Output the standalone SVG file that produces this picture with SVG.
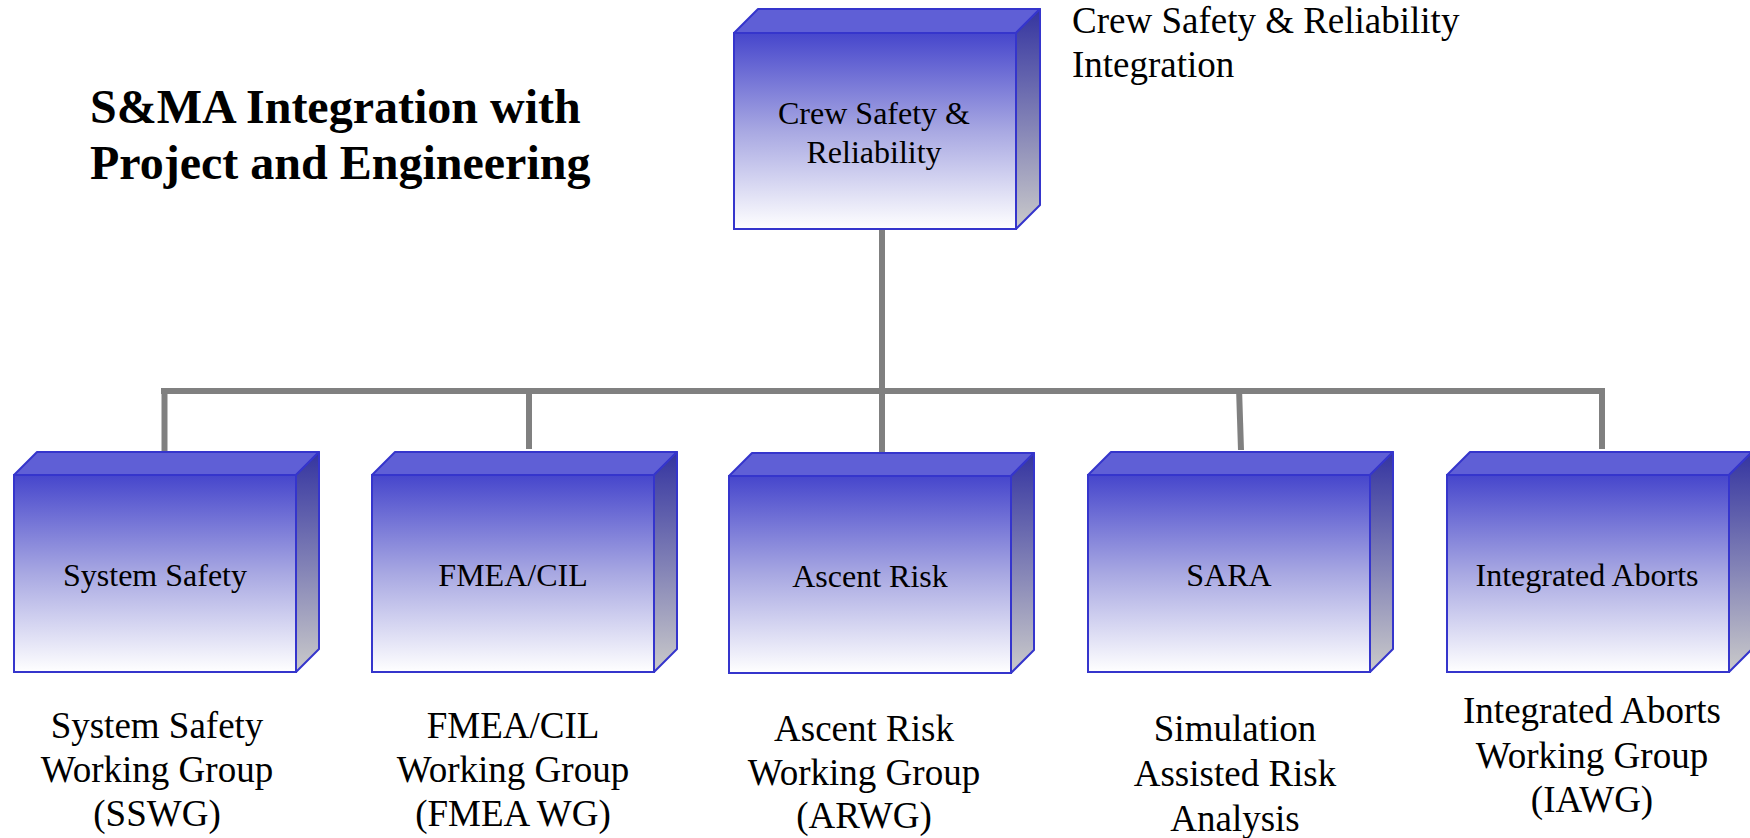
<svg xmlns="http://www.w3.org/2000/svg" width="1750" height="838" viewBox="0 0 1750 838">
  <defs>
    <linearGradient id="gFront" x1="0" y1="0" x2="0" y2="1">
      <stop offset="0" stop-color="#4646cc"/>
      <stop offset="0.5" stop-color="#a8a8e2"/>
      <stop offset="1" stop-color="#ffffff"/>
    </linearGradient>
    <linearGradient id="gSide" x1="0" y1="0" x2="0" y2="1">
      <stop offset="0" stop-color="#3434a0"/>
      <stop offset="1" stop-color="#cacaca"/>
    </linearGradient>
  </defs>
  <style>
    .front { fill: url(#gFront); stroke: #3535cc; stroke-width: 2; }
    .top { fill: #5f5fd6; stroke: #3535cc; stroke-width: 2; stroke-linejoin: round; }
    .side { fill: url(#gSide); stroke: #3535cc; stroke-width: 2; stroke-linejoin: round; }
    .conn { stroke: #808080; stroke-width: 6; fill: none; }
    .boxtxt { font-family: "Liberation Serif", "Times New Roman", serif; font-size: 32px; fill: #000; text-anchor: middle; }
    .label { font-family: "Liberation Serif", "Times New Roman", serif; font-size: 37px; fill: #000; text-anchor: middle; }
    .note { font-family: "Liberation Serif", "Times New Roman", serif; font-size: 37px; fill: #000; }
    .title { font-family: "Liberation Serif", "Times New Roman", serif; font-size: 48px; font-weight: bold; fill: #000; }
  </style>

  <rect x="0" y="0" width="1750" height="838" fill="#ffffff"/>

  <g id="title">
    <text class="title" x="90" y="123">S&amp;MA Integration with</text>
    <text class="title" x="90" y="179">Project and Engineering</text>
  </g>

  <g id="note">
    <text class="note" x="1072" y="33">Crew Safety &amp; Reliability</text>
    <text class="note" x="1072" y="77">Integration</text>
  </g>

  <g id="connectors">
    <line class="conn" x1="882" y1="229" x2="882" y2="452"/>
    <line class="conn" x1="161" y1="391" x2="1605" y2="391"/>
    <line class="conn" x1="164.5" y1="388" x2="164.5" y2="451"/>
    <line class="conn" x1="529" y1="391" x2="529" y2="449"/>
    <line class="conn" x1="1239" y1="388" x2="1241" y2="450"/>
    <line class="conn" x1="1602" y1="388" x2="1602" y2="449"/>
  </g>

  <g id="node-crew">
    <polygon class="top" points="734,33 758,9 1040,9 1016,33"/>
    <polygon class="side" points="1016,33 1040,9 1040,205 1016,229"/>
    <rect class="front" x="734" y="33" width="282" height="196"/>
    <text class="boxtxt" x="874" y="124">Crew Safety &amp;</text>
    <text class="boxtxt" x="874" y="163">Reliability</text>
  </g>

  <g id="node-system-safety">
    <polygon class="top" points="14,475 37,452 319,452 296,475"/>
    <polygon class="side" points="296,475 319,452 319,649 296,672"/>
    <rect class="front" x="14" y="475" width="282" height="197"/>
    <text class="boxtxt" x="155" y="586">System Safety</text>
    <text class="label" x="157" y="738">System Safety</text>
    <text class="label" x="157" y="782">Working Group</text>
    <text class="label" x="157" y="826">(SSWG)</text>
  </g>

  <g id="node-fmea">
    <polygon class="top" points="372,475 395,452 677,452 654,475"/>
    <polygon class="side" points="654,475 677,452 677,649 654,672"/>
    <rect class="front" x="372" y="475" width="282" height="197"/>
    <text class="boxtxt" x="513" y="586">FMEA/CIL</text>
    <text class="label" x="513" y="738">FMEA/CIL</text>
    <text class="label" x="513" y="782">Working Group</text>
    <text class="label" x="513" y="826">(FMEA WG)</text>
  </g>

  <g id="node-ascent">
    <polygon class="top" points="729,476 752,453 1034,453 1011,476"/>
    <polygon class="side" points="1011,476 1034,453 1034,650 1011,673"/>
    <rect class="front" x="729" y="476" width="282" height="197"/>
    <text class="boxtxt" x="870" y="587">Ascent Risk</text>
    <text class="label" x="864" y="741">Ascent Risk</text>
    <text class="label" x="864" y="785">Working Group</text>
    <text class="label" x="864" y="828">(ARWG)</text>
  </g>

  <g id="node-sara">
    <polygon class="top" points="1088,475 1111,452 1393,452 1370,475"/>
    <polygon class="side" points="1370,475 1393,452 1393,649 1370,672"/>
    <rect class="front" x="1088" y="475" width="282" height="197"/>
    <text class="boxtxt" x="1229" y="586">SARA</text>
    <text class="label" x="1235" y="741">Simulation</text>
    <text class="label" x="1235" y="786">Assisted Risk</text>
    <text class="label" x="1235" y="831">Analysis</text>
  </g>

  <g id="node-aborts">
    <polygon class="top" points="1447,475 1470,452 1752,452 1729,475"/>
    <polygon class="side" points="1729,475 1752,452 1752,649 1729,672"/>
    <rect class="front" x="1447" y="475" width="282" height="197"/>
    <text class="boxtxt" x="1587" y="586">Integrated Aborts</text>
    <text class="label" x="1592" y="723">Integrated Aborts</text>
    <text class="label" x="1592" y="768">Working Group</text>
    <text class="label" x="1592" y="812">(IAWG)</text>
  </g>
</svg>
